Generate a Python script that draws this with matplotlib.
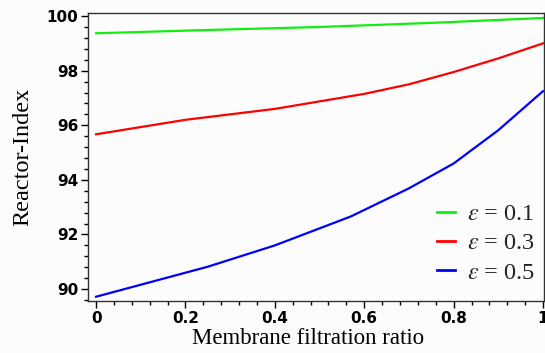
import matplotlib
matplotlib.use("Agg")
import matplotlib.pyplot as plt
from matplotlib.ticker import MultipleLocator

x_green = [0.0, 0.25, 0.5, 0.75, 1.0]
y_green = [99.37, 99.49, 99.60, 99.75, 99.93]

x_red = [0.0, 0.2, 0.4, 0.6, 0.7, 0.8, 0.9, 1.0]
y_red = [95.67, 96.2, 96.6, 97.15, 97.5, 97.95, 98.45, 99.0]

x_blue = [0.0, 0.25, 0.4, 0.57, 0.7, 0.8, 0.9, 1.0]
y_blue = [89.72, 90.82, 91.6, 92.66, 93.69, 94.6, 95.82, 97.25]

labels = [r"$\varepsilon$ = 0.1", r"$\varepsilon$ = 0.3", r"$\varepsilon$ = 0.5"]
colors = ["#11ee11", "#ff0000", "#0000ff"]

plt.rcParams["mathtext.fontset"] = "stix"

fig = plt.figure(figsize=(5.45, 3.53), dpi=100, facecolor="#fcfcfc")
ax = fig.add_axes([0.1615, 0.147, 0.8365, 0.816])
ax.set_facecolor("#fcfcfc")

for xs, ys, c, lab in zip([x_green, x_red, x_blue], [y_green, y_red, y_blue], colors, labels):
    ax.plot(xs, ys, color=c, lw=1.6, label=lab)

ax.set_xlim(-0.018, 1.002)
ax.set_ylim(89.56, 100.11)
ax.xaxis.set_major_locator(MultipleLocator(0.2))
ax.xaxis.set_minor_locator(MultipleLocator(0.04))
ax.yaxis.set_major_locator(MultipleLocator(2))
ax.yaxis.set_minor_locator(MultipleLocator(0.4))
ax.set_xticks([0, 0.2, 0.4, 0.6, 0.8, 1.0])
ax.set_xticklabels(["0", "0.2", "0.4", "0.6", "0.8", "1"])
ax.tick_params(which="major", direction="out", length=5, width=1, labelsize=11, pad=2)
ax.tick_params(which="minor", direction="out", length=3, width=1)
for lbl in ax.get_xticklabels() + ax.get_yticklabels():
    lbl.set_fontweight("bold")
    lbl.set_family("DejaVu Sans")

for s in ax.spines.values():
    s.set_color("#333333")
    s.set_linewidth(1)

ax.set_xlabel("Membrane filtration ratio", family="Liberation Serif", fontsize=16.5)
ax.xaxis.set_label_coords(0.482, -0.095)
ax.set_ylabel("Reactor-Index", family="Liberation Serif", fontsize=17.5)
ax.yaxis.set_label_coords(-0.12, 0.5)

leg = ax.legend(loc="upper left", bbox_to_anchor=(0.765, 0.34), frameon=False,
                handlelength=0.75, handletextpad=0.5, labelspacing=0.3,
                borderpad=0, borderaxespad=0,
                prop={"family": "Liberation Serif", "size": 17.5})
for t in leg.get_texts():
    t.set_color("#222222")
for h in leg.get_lines():
    h.set_linewidth(2)

fig.savefig("out.png", dpi=100, facecolor=fig.get_facecolor())
